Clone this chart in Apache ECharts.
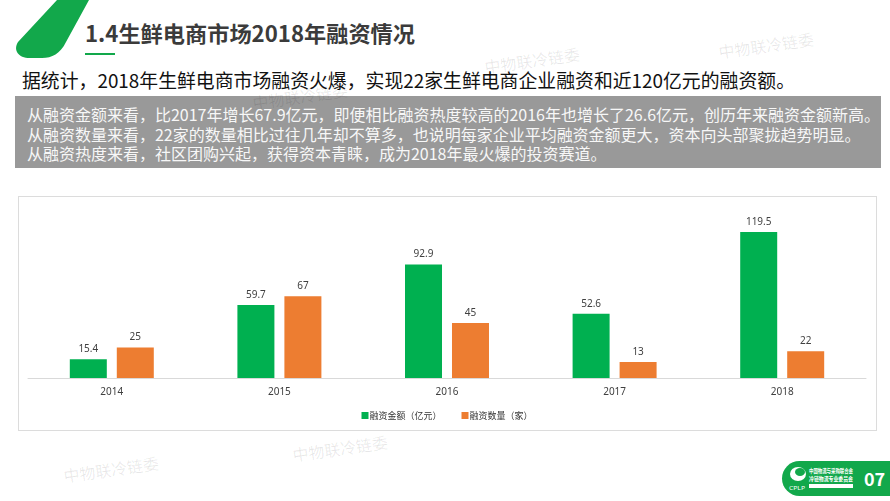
<!DOCTYPE html>
<html>
<head>
<meta charset="utf-8">
<script src="https://cdn.jsdelivr.net/npm/echarts@6/dist/echarts.min.js"></script>
<style>
  html, body { margin:0; padding:0; background:#ffffff; }
  body { width:890px; height:501px; position:relative; overflow:hidden; font-family:"Noto Sans CJK SC","Noto Sans",sans-serif; }
  .abs { position:absolute; white-space:nowrap; }
  .fit { transform-origin:0 50%; display:inline-block; }
  #title { left:85px; top:17px; font-size:22px; line-height:30px; font-weight:bold; color:#3b3b3b; }
  #uline { left:85px; top:53px; width:30px; height:2px; background:#12a84b; }
  #lead { left:22px; top:68px; font-size:19px; line-height:24px; color:#111; }
  #gbox { left:15px; top:96px; width:866px; height:72px; background:#999999; }
  .gl { left:27px; font-size:16px; line-height:20px; color:#f7f7f7; }
  #cbox { left:18px; top:196px; width:857px; height:233px; border:1px solid #dcdcdc; box-sizing:content-box; }
  #chart { left:19px; top:197px; width:856px; height:232px; }
  .wm { font-size:16px; color:rgba(0,0,0,0.09); transform:rotate(-8deg); transform-origin:50% 50%; }
  #pill { left:782px; top:461px; width:120px; height:35px; border-radius:18px 0 0 18px; background:#12a84b; }
  #pn { left:864px; top:465px; font-size:18px; line-height:26px; font-weight:bold; color:#fff; }
</style>
</head>
<body>
<svg class="abs" style="left:0;top:0" width="100" height="62">
  <path d="M57,0 L89,0 L66,42 C60,54 52,58 42,58 L30,58 C18,58 13,50 18,42 Z" fill="#12a84b"/>
</svg>
<div class="abs" id="title"><span class="fit" data-w="330">1.4生鲜电商市场2018年融资情况</span></div>
<div class="abs" id="uline"></div>
<div class="abs" id="lead"><span class="fit" data-w="773">据统计，2018年生鲜电商市场融资火爆，实现22家生鲜电商企业融资和近120亿元的融资额。</span></div>
<div class="abs" id="gbox"></div>
<div class="abs gl" style="top:104px"><span class="fit gfit" data-w="853">从融资金额来看，比2017年增长67.9亿元，即便相比融资热度较高的2016年也增长了26.6亿元，创历年来融资金额新高。</span></div>
<div class="abs gl" style="top:124px"><span class="fit gfit">从融资数量来看，22家的数量相比过往几年却不算多，也说明每家企业平均融资金额更大，资本向头部聚拢趋势明显。</span></div>
<div class="abs gl" style="top:143px"><span class="fit gfit">从融资热度来看，社区团购兴起，获得资本青睐，成为2018年最火爆的投资赛道。</span></div>
<div class="abs" id="cbox"></div>
<div class="abs" id="chart"></div>

<div class="abs wm" style="left:718px;top:33px">中物联冷链委</div>
<div class="abs wm" style="left:484px;top:48px">中物联冷链委</div>
<div class="abs wm" style="left:252px;top:84px">中物联冷链委</div>
<div class="abs wm" style="left:292px;top:436px">中物联冷链委</div>
<div class="abs wm" style="left:63px;top:457px">中物联冷链委</div>

<div class="abs" id="pill"></div>
<svg class="abs" style="left:786px;top:463px" width="75" height="32">
  <ellipse cx="12" cy="11" rx="8" ry="7" fill="#fff"/>
  <ellipse cx="14" cy="9" rx="5" ry="4" fill="#12a84b"/>
  <text x="3" y="27" font-size="5" fill="#fff" font-family="Noto Sans" textLength="16" lengthAdjust="spacingAndGlyphs">CPLP</text>
  <text x="23" y="10" font-size="6" fill="#fff" font-weight="bold" font-family="Noto Sans CJK SC" textLength="44" lengthAdjust="spacingAndGlyphs">中国物流与采购联合会</text>
  <text x="23" y="18" font-size="6" fill="#fff" font-weight="bold" font-family="Noto Sans CJK SC" textLength="44" lengthAdjust="spacingAndGlyphs">冷链物流专业委员会</text>
  <rect x="23" y="21" width="44" height="4" fill="#fff"/>
</svg>
<div class="abs" id="pn">07</div>

<script>
// ---- data ----
const years = ['2014', '2015', '2016', '2017', '2018'];
const amountValues = [15.4, 59.7, 92.9, 52.6, 119.5];
const countValues = [25, 67, 45, 13, 22];
const seriesNames = ['融资金额（亿元）', '融资数量（家）'];

// ---- fit slide text widths ----
document.querySelectorAll('.fit[data-w]').forEach(function (el) {
  const w = el.getBoundingClientRect().width;
  const s = parseFloat(el.getAttribute('data-w')) / w;
  el.style.transform = 'scaleX(' + s + ')';
  if (el.classList.contains('gfit')) {
    document.querySelectorAll('.gfit').forEach(function (g) { g.style.transform = 'scaleX(' + s + ')'; });
  }
});

const chart = echarts.init(document.getElementById('chart'), null, { renderer: 'canvas' });
const labelStyle = { show: true, position: 'top', distance: 5, fontSize: 10, color: '#404040', fontFamily: 'Noto Sans' };
chart.setOption({
  animation: false,
  textStyle: { fontFamily: '"Noto Sans CJK SC","Noto Sans",sans-serif' },
  grid: { left: 9, right: 9, top: 10, bottom: 51 },
  legend: {
    top: 209, left: 'center',
    itemWidth: 7, itemHeight: 7, itemGap: 20, icon: 'rect',
    textStyle: { fontSize: 9, color: '#333', padding: [0, 0, 0, -4] },
    data: seriesNames
  },
  xAxis: {
    type: 'category', data: years,
    axisLine: { lineStyle: { color: '#d9d9d9', width: 1 } },
    axisTick: { show: false },
    axisLabel: { fontSize: 10, color: '#404040', margin: 9, fontFamily: 'Noto Sans' }
  },
  yAxis: { type: 'value', min: 0, max: 140, show: false, splitLine: { show: false } },
  series: [
    { name: seriesNames[0], type: 'bar', data: amountValues, barWidth: 37, barGap: '27%',
      itemStyle: { color: '#00b050' }, label: labelStyle },
    { name: seriesNames[1], type: 'bar', data: countValues, barWidth: 37, barGap: '27%',
      itemStyle: { color: '#ed7d31' }, label: labelStyle }
  ]
});
</script>
</body>
</html>
